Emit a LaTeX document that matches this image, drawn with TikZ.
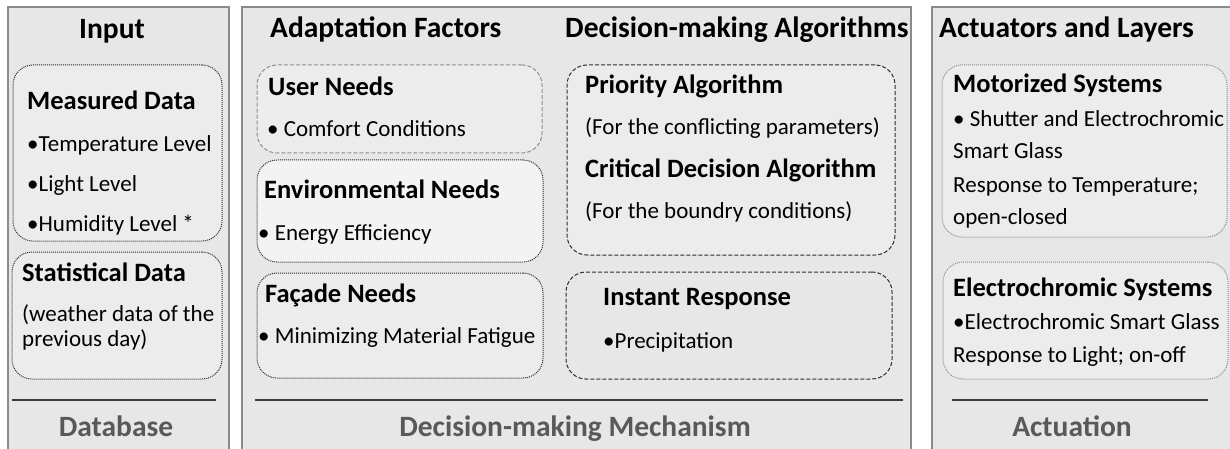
\documentclass[tikz,border=0pt]{standalone}
\usepackage{fontspec}
\setmainfont{Carlito}
\definecolor{panelbg}{HTML}{E7E7E7}
\definecolor{panelline}{HTML}{8A8A8A}
\definecolor{boxfill}{HTML}{ECECEC}
\definecolor{boxlight}{HTML}{F3F3F3}
\definecolor{darkdot}{HTML}{2E2E2E}
\definecolor{lightdot}{HTML}{8E8E8E}
\definecolor{rulecol}{HTML}{3C3C3C}
\definecolor{footcol}{HTML}{595959}
\begin{document}
\begin{tikzpicture}[x=1pt,y=-1pt,
  panel/.style={fill=panelbg, draw=panelline, line width=1.1pt},
  box/.style={rounded corners=20pt, inner sep=0pt, line width=1pt},
  dotbox/.style={box, draw=darkdot, dash pattern=on 1pt off 1pt, fill=boxfill},
  lightdotbox/.style={box, draw=lightdot, dash pattern=on 1pt off 1pt, fill=boxfill},
  dashbox/.style={box, draw=darkdot, dash pattern=on 4pt off 2pt, fill=boxfill},
  lightdashbox/.style={box, draw=lightdot, dash pattern=on 4pt off 2pt, fill=boxfill},
  hdr/.style={font=\bfseries\fontsize{29.5}{32}\selectfont, inner sep=0pt, anchor=base west},
  sub/.style={font=\bfseries\fontsize{26.5}{28}\selectfont, inner sep=0pt, anchor=base west},
  body/.style={font=\fontsize{23}{26}\selectfont, inner sep=0pt, anchor=base west},
  foot/.style={font=\bfseries\fontsize{29.5}{32}\selectfont, text=footcol, inner sep=0pt, anchor=base},
  sep/.style={draw=rulecol, line width=1.6pt}
]
\clip (0,0) rectangle (1230,449);
\fill[white] (0,0) rectangle (1230,449);

% three column panels
\draw[panel] (8,7) rectangle (229,460);
\draw[panel] (242,7) rectangle (911,460);
\draw[panel] (932,7) rectangle (1240,460);

% ---- Database column ----
\node[hdr, anchor=base] (tin) at (112,39) {Input};
\node[dotbox, minimum width=209pt, minimum height=176pt] (meas) at (117.5,153) {};
\node[sub] (tmeas) at (27,110) {Measured Data};
\node[body] (m1) at (27,152) {•Temperature Level};
\node[body] (m2) at (27,191) {•Light Level};
\node[body] (m3) at (27,231) {•Humidity Level *};
\node[dotbox, minimum width=210pt, minimum height=127pt] (stat) at (117,315.5) {};
\node[sub] (tstat) at (22,281) {Statistical Data};
\node[body] (s1) at (22,321) {(weather data of the};
\node[body] (s2) at (22,346) {previous day)};
\coordinate (dbl) at (12,400);
\coordinate (dbr) at (216,400);
\draw[sep] (dbl) -- (dbr);
\node[foot] (fdb) at (116,436) {Database};

% ---- Decision-making column ----
\node[hdr] (tadapt) at (270,38) {Adaptation Factors};
\node[hdr] (talg) at (565,38) {Decision-making Algorithms};

\node[lightdashbox, minimum width=285pt, minimum height=88pt] (user) at (399.5,109) {};
\node[sub] (tuser) at (268,96) {User Needs};
\node[body] (u1) at (267,137) {• Comfort Conditions};

\node[dotbox, fill=boxlight, minimum width=286pt, minimum height=102pt] (env) at (400,211) {};
\node[sub] (tenv) at (264,198) {Environmental Needs};
\node[body] (e1) at (258,240) {• Energy Efficiency};

\node[dotbox, minimum width=286pt, minimum height=105pt] (fac) at (400,325.5) {};
\node[sub] (tfac) at (265,302) {Façade Needs};
\node[body] (f1) at (258,343) {• Minimizing Material Fatigue};

\node[dashbox, minimum width=328pt, minimum height=190pt] (prio) at (731,160) {};
\node[sub] (tprio) at (585,94) {Priority Algorithm};
\node[body] (p1) at (585,135) {(For the conflicting parameters)};
\node[sub] (tcrit) at (585,178) {Critical Decision Algorithm};
\node[body] (p2) at (585,218) {(For the boundry conditions)};

\node[dashbox, fill=panelbg, minimum width=326pt, minimum height=107pt] (inst) at (729,325.5) {};
\node[sub] (tinst) at (603,305) {Instant Response};
\node[body] (i1) at (603,348) {•Precipitation};

\coordinate (mml) at (255,400);
\coordinate (mmr) at (903,400);
\draw[sep] (mml) -- (mmr);
\node[foot] (fmm) at (575,436) {Decision-making Mechanism};

% ---- Actuation column ----
\node[hdr] (tact) at (939,38) {Actuators and Layers};
\node[lightdotbox, minimum width=285pt, minimum height=172pt] (mot) at (1084.5,151) {};
\node[sub] (tmot) at (953,93) {Motorized Systems};
\node[body] (a1) at (953,127) {• Shutter and Electrochromic};
\node[body] (a2) at (953,159) {Smart Glass};
\node[body] (a3) at (953,192) {Response to Temperature;};
\node[body] (a4) at (953,224) {open-closed};

\node[lightdotbox, minimum width=285pt, minimum height=117pt] (elec) at (1085.5,320.5) {};
\node[sub] (telec) at (953,296) {Electrochromic Systems};
\node[body] (b1) at (953,329) {•Electrochromic Smart Glass};
\node[body] (b2) at (953,362) {Response to Light; on-off};

\coordinate (acl) at (952,400);
\coordinate (acr) at (1208,400);
\draw[sep] (acl) -- (acr);
\node[foot] (fac2) at (1072,436) {Actuation};
\end{tikzpicture}
\end{document}
